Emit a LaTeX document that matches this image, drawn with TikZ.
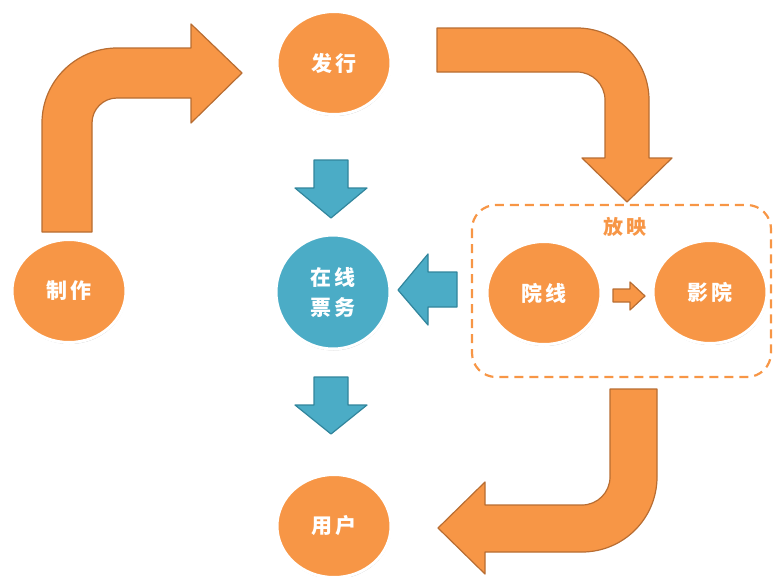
\documentclass[tikz,border=0pt]{standalone}
\usepackage{fontspec}
\newfontfamily\cjk[LetterSpace=18]{Noto Sans CJK SC}
\usetikzlibrary{shapes.geometric,shadows}

\definecolor{accorange}{HTML}{F79646}
\definecolor{accorangeline}{HTML}{B86D32}
\definecolor{accteal}{HTML}{4BACC6}
\definecolor{acctealline}{HTML}{31859C}

\tikzset{
	ball/.style={ellipse, minimum width=114pt, minimum height=103pt, inner sep=0pt,
		draw=white, line width=3pt, text=white, font=\cjk\bfseries\fontsize{21}{30}\selectfont,
		drop shadow={shadow xshift=0.5pt, shadow yshift=-1.5pt, opacity=0.35, fill=black!70}},
	orangeball/.style={ball, fill=accorange},
	tealball/.style={ball, circle, minimum size=114pt, fill=accteal, align=center},
	orangearrow/.style={fill=accorange, draw=accorangeline, line width=1.2pt, line join=round},
	tealarrow/.style={fill=accteal, draw=acctealline, line width=1.2pt, line join=round},
	groupbox/.style={draw=accorange, line width=2.2pt, dash pattern=on 9pt off 6pt, rounded corners=24pt}
}

\begin{document}
\begin{tikzpicture}[x=1pt, y=-1pt]
			%%%%% START %%%%%
			\useasboundingbox (0,0) rectangle (774,576);
			
			\draw[groupbox] (472,205) rectangle (771,377);
			\node[text=accorange, font=\cjk\bfseries\fontsize{20}{24}\selectfont] (fangying) at (625,227) {放映};
			
			\draw[orangearrow] (42,232) -- (42,123) arc (180:270:75) -- (191,48) -- (191,24) -- (242,73)
				-- (191,123) -- (191,98) -- (117,98) arc (270:180:25) -- (92,232) -- cycle;
			\draw[orangearrow] (437,28) -- (577,28) arc (270:360:72) -- (649,158) -- (672,158) -- (627,202)
				-- (582,158) -- (605,158) -- (605,100) arc (0:-90:28) -- (437,72) -- cycle;
			\draw[orangearrow] (657,389) -- (657,477) arc (0:90:75) -- (485,552) -- (485,574) -- (438,528)
				-- (485,482) -- (485,505) -- (582,505) arc (90:0:28) -- (610,389) -- cycle;
			\draw[orangearrow] (613,289) -- (630,289) -- (630,282) -- (645,296) -- (630,310) -- (630,302) -- (613,302) -- cycle;
			
			\draw[tealarrow] (314,160) -- (348,160) -- (348,188) -- (367,188) -- (331,218) -- (295,188) -- (314,188) -- cycle;
			\draw[tealarrow] (314,377) -- (348,377) -- (348,405) -- (367,405) -- (331,434) -- (295,405) -- (314,405) -- cycle;
			\draw[tealarrow] (457,272) -- (457,307) -- (428,307) -- (428,325) -- (398,290) -- (428,254) -- (428,272) -- cycle;
			
			\node[orangeball] (zhizuo) at (69,291) {制作};
			\node[orangeball] (faxing) at (334,63) {发行};
			\node[tealball] (piaowu) at (333,292) {在线\\票务};
			\node[orangeball] (yuanxian) at (544,293) {院线};
			\node[orangeball] (yingyuan) at (710,292) {影院};
			\node[orangeball] (yonghu) at (334,526) {用户};
			
			%%%%% END %%%%%
\end{tikzpicture}
\end{document}
